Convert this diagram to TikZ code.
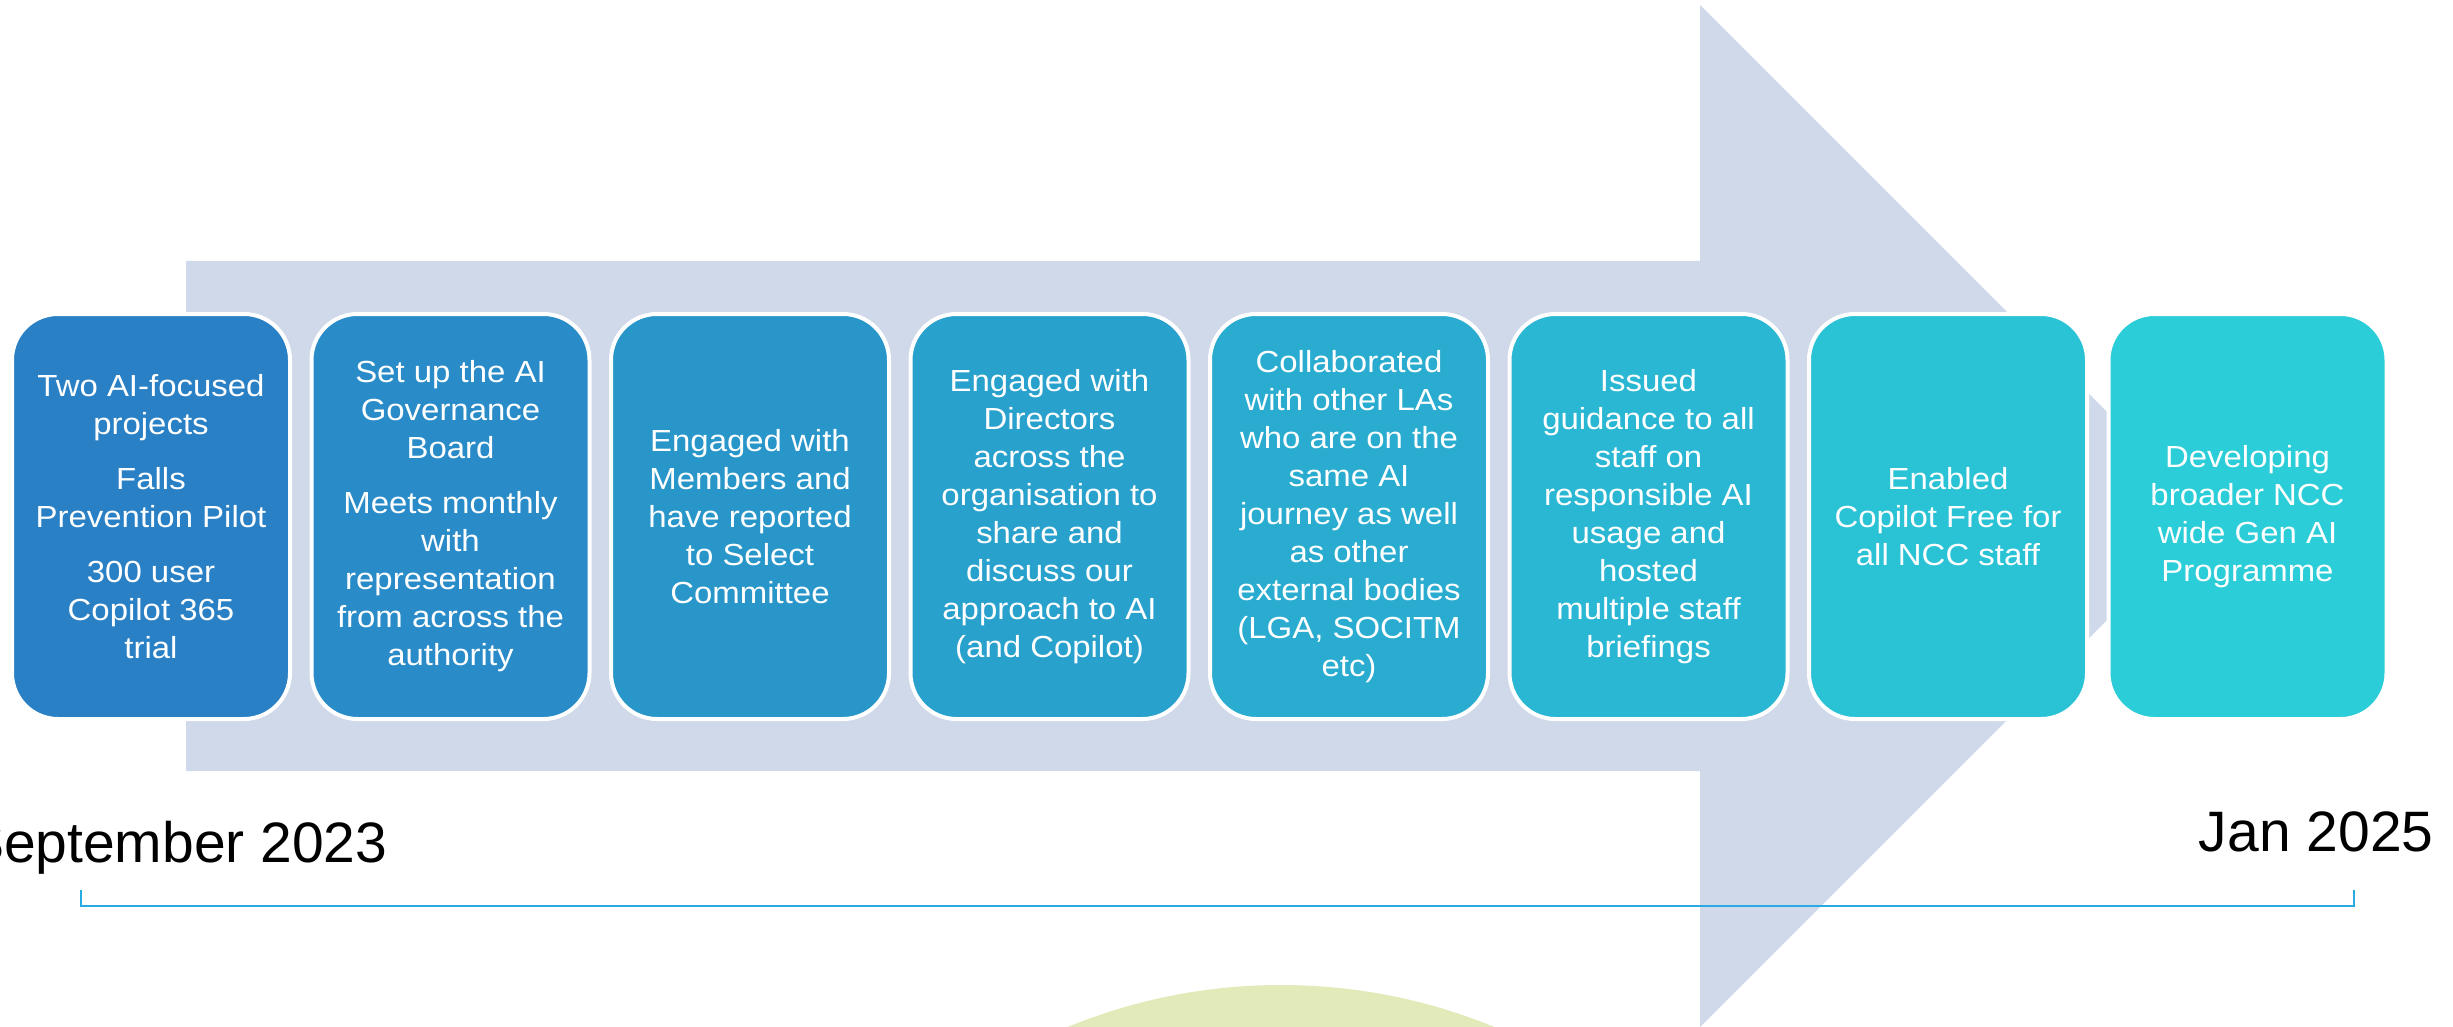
\documentclass[tikz,border=0pt]{standalone}
\usepackage{fontspec}
\setmainfont{Liberation Sans}
\newfontfamily\cardfamily[FakeStretch=1.08]{Liberation Sans}
\newfontfamily\datefamily{Liberation Sans}

% palette
\definecolor{arrowgrey}{RGB}{207,217,234}
\definecolor{lineblue}{RGB}{41,171,226}
\definecolor{sage}{RGB}{225,234,184}
\definecolor{cardA}{RGB}{41,128,197}
\definecolor{cardB}{RGB}{41,139,200}
\definecolor{cardC}{RGB}{41,150,202}
\definecolor{cardD}{RGB}{41,161,205}
\definecolor{cardE}{RGB}{41,172,208}
\definecolor{cardF}{RGB}{42,183,211}
\definecolor{cardG}{RGB}{42,194,213}
\definecolor{cardH}{RGB}{42,205,216}

\begin{document}
\begin{tikzpicture}[x=1pt,y=-1pt,
  card/.style={rectangle, minimum width=278pt, minimum height=405pt,
    rounded corners=46pt, draw=white, line width=4pt, inner sep=0pt,
    align=center, text=white,
    font=\cardfamily\fontsize{30.5}{38}\selectfont},
  datelabel/.style={anchor=base east, text=black,
    font=\datefamily\fontsize{57}{64}\selectfont},
  bracket/.style={draw=lineblue, line width=2.7pt}]

\useasboundingbox (0,0) rectangle (2453,1027);
\clip (0,0) rectangle (2453,1027);

% pale green disc rising from the bottom edge
\fill[sage] (1281,1546) circle[radius=561];

% large background arrow
\fill[arrowgrey] (186,261) -- (1700,261) -- (1700,5) -- (2211,516)
  -- (1700,1027) -- (1700,771) -- (186,771) -- cycle;

% milestone cards
\node[card, fill=cardA] (s1) at (151,516.5)
  {Two AI-focused\\projects\\[17pt]Falls\\Prevention Pilot\\[17pt]300 user\\Copilot 365\\trial};
\node[card, fill=cardB] (s2) at (450.5,516.5)
  {Set up the AI\\Governance\\Board\\[17pt]Meets monthly\\with\\representation\\from across the\\authority};
\node[card, fill=cardC] (s3) at (750,516.5)
  {Engaged with\\Members and\\have reported\\to Select\\Committee};
\node[card, fill=cardD] (s4) at (1049.5,516.5)
  {Engaged with\\Directors\\across the\\organisation to\\share and\\discuss our\\approach to AI\\(and Copilot)};
\node[card, fill=cardE] (s5) at (1349,516.5)
  {Collaborated\\with other LAs\\who are on the\\same AI\\journey as well\\as other\\external bodies\\(LGA, SOCITM\\etc)};
\node[card, fill=cardF] (s6) at (1648.5,516.5)
  {Issued\\guidance to all\\staff on\\responsible AI\\usage and\\hosted\\multiple staff\\briefings};
\node[card, fill=cardG] (s7) at (1948,516.5)
  {Enabled\\Copilot Free for\\all NCC staff};
\node[card, fill=cardH] (s8) at (2247.5,516.5)
  {Developing\\broader NCC\\wide Gen AI\\Programme};

% dates
\node[datelabel] (start) at (391,862) {September 2023};
\node[datelabel] (finish) at (2437,851) {Jan 2025};

% timeline bracket
\coordinate (tickL) at (81,890);
\coordinate (tickR) at (2354,890);
\draw[bracket] (tickL) -- ++(0,16) -| (tickR);

\end{tikzpicture}
\end{document}
